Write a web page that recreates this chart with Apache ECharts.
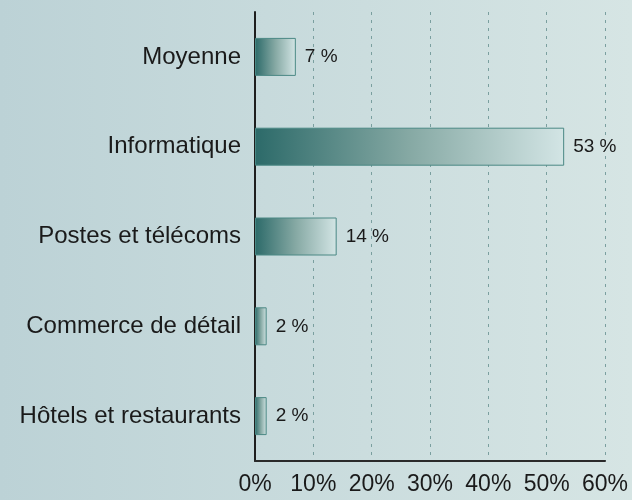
<!DOCTYPE html>
<html>
<head>
<meta charset="utf-8">
<script src="https://cdn.jsdelivr.net/npm/echarts@6/dist/echarts.min.js"></script>
<style>
  html, body { margin: 0; padding: 0; }
  #chart { width: 632px; height: 500px; }
</style>
</head>
<body>
<div id="chart"></div>
<script>
// secteurs et parts (%)
const categories = ["Moyenne", "Informatique", "Postes et télécoms", "Commerce de détail", "Hôtels et restaurants"];
const values = [7, 53, 14, 2, 2];
const axisMax = 60;
const axisStep = 10;

const font = "'Liberation Sans', Arial, sans-serif";

const chart = echarts.init(document.getElementById("chart"));

const option = {
  animation: false,
  backgroundColor: new echarts.graphic.LinearGradient(0, 0, 1, 0, [
    { offset: 0, color: "#bcd2d6" },
    { offset: 1, color: "#d6e5e4" },
  ]),
  grid: {
    left: 255,
    right: 27,
    top: 12,
    bottom: 39,
  },
  xAxis: {
    type: "value",
    min: 0,
    max: axisMax,
    interval: axisStep,
    axisLine: { show: true, lineStyle: { color: "#2a2a2a", width: 2 } },
    axisTick: { show: false },
    axisLabel: {
      formatter: "{value}%",
      color: "#1a1a1a",
      fontFamily: font,
      fontSize: 23,
      margin: 12,
    },
    splitLine: {
      show: true,
      lineStyle: { color: "#7a9f9f", width: 1, type: [3, 5] },
    },
  },
  yAxis: {
    type: "category",
    data: categories,
    inverse: true,
    axisLine: { show: true, lineStyle: { color: "#1e1e1e", width: 2 } },
    axisTick: { show: false },
    axisLabel: {
      color: "#1a1a1a",
      fontFamily: font,
      fontSize: 24,
      margin: 14,
    },
  },
  series: [
    {
      type: "bar",
      data: values,
      barWidth: 38,
      itemStyle: {
        color: new echarts.graphic.LinearGradient(0, 0, 1, 0, [
          { offset: 0, color: "#2c6a69" },
          { offset: 0.5, color: "#86a9a4" },
          { offset: 1, color: "#d3e5e5" },
        ]),
        borderColor: "#4a8884",
        borderWidth: 1,
      },
      label: {
        show: true,
        position: "right",
        distance: 9,
        formatter: "{c} %",
        color: "#1a1a1a",
        fontFamily: font,
        fontSize: 19,
      },
    },
  ],
};

chart.setOption(option);
</script>
</body>
</html>
